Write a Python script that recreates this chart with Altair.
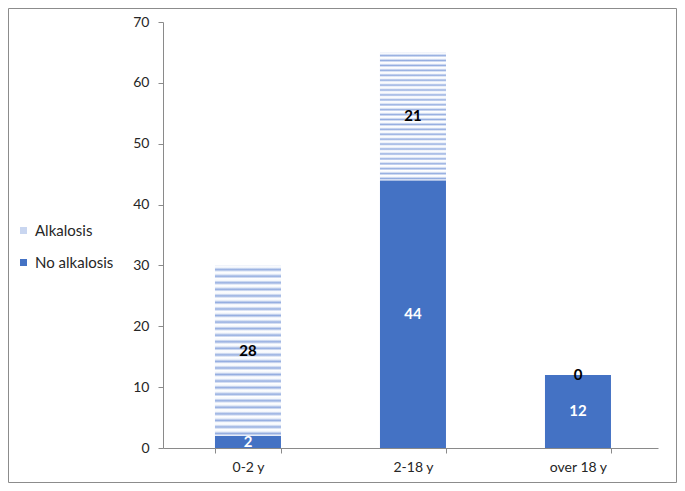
import altair as alt
import pandas as pd

categories = ["0-2 y", "2-18 y", "over 18 y"]
series_names = ["No alkalosis", "Alkalosis"]
no_alkalosis = [2, 44, 12]
alkalosis = [28, 21, 0]
y_ticks = [0, 10, 20, 30, 40, 50, 60, 70]

rows = []
for i, c in enumerate(categories):
    rows.append({"age": c, "series": "No alkalosis", "value": no_alkalosis[i], "ord": 0})
    rows.append({"age": c, "series": "Alkalosis", "value": alkalosis[i], "ord": 1})
df = pd.DataFrame(rows)

FONT = "Lato"
BLUE = "#4472C4"
LIGHT = "#c9d6f0"
GRAY = "#8a8a8a"

# soft striped fill imitating the wave hatch
N_STRIPES = 26
stops = []
for k in range(N_STRIPES):
    stops += [{"offset": k / N_STRIPES, "color": "#ffffff"},
              {"offset": (k + 0.3) / N_STRIPES, "color": "#f4f7fc"},
              {"offset": (k + 0.65) / N_STRIPES, "color": "#94ade0"}]
stops.append({"offset": 1, "color": "#ffffff"})
hatch = {"gradient": "linear", "x1": 0, "y1": 0, "x2": 0, "y2": 1, "stops": stops}

xscale = alt.Scale(paddingInner=0.6, paddingOuter=0.3, align=0.525)

x_enc = alt.X(
    "age:N", sort=categories, title=None, scale=xscale,
    axis=alt.Axis(labelAngle=0, tickBand="extent", tickSize=5, labelPadding=7,
                  labelFontSize=14, labelFont=FONT, labelColor="#262626",
                  domainColor=GRAY, tickColor=GRAY),
)

bars = alt.Chart(df).mark_bar().encode(
    x=x_enc,
    y=alt.Y("value:Q", stack="zero", title=None,
            scale=alt.Scale(domain=[0, 70], nice=False),
            axis=alt.Axis(values=y_ticks, grid=False, tickSize=5, labelPadding=9,
                          labelFontSize=14, labelFont=FONT, labelColor="#262626",
                          domainColor=GRAY, tickColor=GRAY)),
    color=alt.Color("series:N",
                    scale=alt.Scale(domain=["Alkalosis", "No alkalosis"], range=[LIGHT, BLUE]),
                    legend=alt.Legend(title=None, orient="none", legendX=-147, legendY=201,
                                      symbolType="square", symbolSize=49, labelFontSize=15,
                                      labelFont=FONT, labelColor="#262626", rowPadding=16,
                                      labelOffset=4, padding=0)),
    order=alt.Order("ord:Q"),
)

stacked = alt.Chart(df).transform_stack(
    stack="value", groupby=["age"], as_=["v0", "v1"],
    sort=[alt.SortField("ord", order="ascending")],
)

hatched = stacked.transform_filter(
    "datum.series == 'Alkalosis' && datum.value > 0"
).mark_bar().encode(
    x=alt.X("age:N", sort=categories),
    y=alt.Y("v0:Q"),
    y2="v1:Q",
    fill=alt.value(hatch),
)

labels = stacked.transform_calculate(
    mid="(datum.v0 + datum.v1) / 2"
).mark_text(font=FONT, fontSize=15, fontWeight="bold", baseline="middle").encode(
    x=alt.X("age:N", sort=categories),
    y=alt.Y("mid:Q"),
    text=alt.Text("value:Q"),
    color=alt.condition("datum.series == 'Alkalosis'", alt.value("black"), alt.value("white")),
)

frame = alt.Chart(alt.Data(values=[{"a": 1}])).mark_rect(
    fill="transparent", stroke="#8c8c8c", strokeWidth=1
).encode(
    x=alt.value(-154.5), x2=alt.value(513.5), y=alt.value(-13.5), y2=alt.value(460.5)
)

chart = alt.layer(bars, hatched, labels, frame).properties(
    width=495, height=426,
    autosize=alt.AutoSizeParams(type="none"),
    padding={"left": 155, "top": 14, "right": 19, "bottom": 35},
).configure_view(stroke=None)

chart.save("out.html", embed_options={"renderer": "svg", "actions": False})
